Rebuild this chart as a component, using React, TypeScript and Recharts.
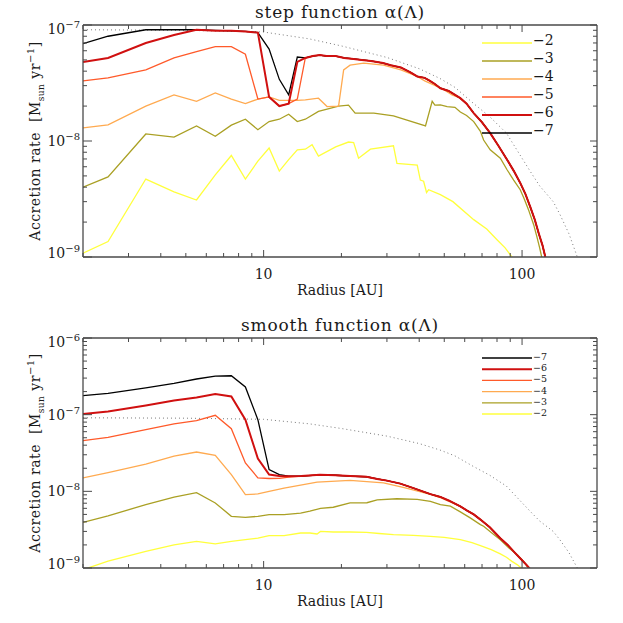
import { LineChart, Line, XAxis, YAxis, Legend } from 'recharts';

const SERIF = '"DejaVu Serif", "Liberation Serif", serif';
const FRAME = '#4a4a4a';
const INK = '#1a1a1a';

// axis ticks
const radiusTicks = [2, 3, 4, 5, 6, 7, 8, 9, 10, 20, 30, 40, 50, 60, 70, 80, 90, 100];
const stepRateTicks = [
  1e-9, 2e-9, 3e-9, 4e-9, 5e-9, 6e-9, 7e-9, 8e-9, 9e-9,
  1e-8, 2e-8, 3e-8, 4e-8, 5e-8, 6e-8, 7e-8, 8e-8, 9e-8, 1e-7,
];
const smoothRateTicks = [
  1e-9, 2e-9, 3e-9, 4e-9, 5e-9, 6e-9, 7e-9, 8e-9, 9e-9,
  1e-8, 2e-8, 3e-8, 4e-8, 5e-8, 6e-8, 7e-8, 8e-8, 9e-8,
  1e-7, 2e-7, 3e-7, 4e-7, 5e-7, 6e-7, 7e-7, 8e-7, 9e-7, 1e-6,
];

// dotted reference curve (same in both panels)
const dottedR = [2, 5, 10, 15, 20, 30, 40, 48, 55, 65, 75, 87, 100, 108, 117, 132, 140, 152, 165];
const dottedRate = [9.1e-8, 9.0e-8, 8.7e-8, 7.6e-8, 6.6e-8, 5.25e-8, 4.2e-8, 3.47e-8, 2.9e-8, 2.1e-8, 1.62e-8, 1.17e-8, 7.1e-9, 5.4e-9, 4.1e-9, 3.0e-9, 2.34e-9, 1.58e-9, 9.5e-10];

// ---- step function panel ----
const stepInnerR = [2, 2.5, 3.5, 4.5, 5.5, 6.5, 7.5, 8.5, 9.5, 10.5, 11.5, 12.5, 13.5];
const step7Inner = [6.9e-8, 8.0e-8, 9.1e-8, 9.1e-8, 9.1e-8, 9.0e-8, 8.9e-8, 8.8e-8, 8.6e-8, 6.2e-8, 3.4e-8, 2.5e-8, 5.3e-8];
const step6Inner = [4.8e-8, 5.2e-8, 7.0e-8, 8.2e-8, 9.1e-8, 8.9e-8, 8.9e-8, 8.8e-8, 8.6e-8, 2.4e-8, 2.0e-8, 2.1e-8, 4.8e-8];
const step5Inner = [3.3e-8, 3.5e-8, 4.1e-8, 5.2e-8, 5.9e-8, 6.5e-8, 6.5e-8, 5.6e-8, 2.3e-8, 2.4e-8, 2.0e-8, 2.1e-8, 2.3e-8];

// shared outer branch of -5, -6, -7 (and -4 beyond ~55 AU)
const stepTailR = [14.5, 15.5, 16.5, 17.5, 19, 20.5, 22.3, 24, 26, 29, 31, 34, 37, 39.3, 42, 44, 46, 48.3, 52, 57.7, 61, 65, 70, 75.3, 81, 87.5, 93, 98.4, 103, 107.6, 112, 116, 120, 124];
const stepTailRate = [5.2e-8, 5.4e-8, 5.5e-8, 5.4e-8, 5.4e-8, 5.2e-8, 5.1e-8, 5.0e-8, 4.9e-8, 4.7e-8, 4.5e-8, 4.3e-8, 3.9e-8, 3.6e-8, 3.5e-8, 3.3e-8, 3.1e-8, 2.85e-8, 2.7e-8, 2.34e-8, 2.1e-8, 1.74e-8, 1.45e-8, 1.17e-8, 9.1e-9, 6.9e-9, 5.5e-9, 4.35e-9, 3.5e-9, 2.7e-9, 2.1e-9, 1.6e-9, 1.26e-9, 9.3e-10];

const step4R = [2, 2.5, 3.5, 4.5, 5.5, 6.5, 7.5, 8.5, 9.5, 10.5, 11.5, 12.5, 13.5, 14.5, 16.3, 17.6, 19.5, 20.4, 21.6, 24.4, 29.1, 34, 39.3, 42, 45.5, 50, 53.6];
const step4Rate = [1.3e-8, 1.38e-8, 2.0e-8, 2.5e-8, 2.2e-8, 2.6e-8, 2.3e-8, 2.1e-8, 2.3e-8, 2.4e-8, 2.24e-8, 2.24e-8, 2.24e-8, 2.26e-8, 2.34e-8, 1.98e-8, 2.0e-8, 4.1e-8, 4.5e-8, 4.7e-8, 4.5e-8, 4.1e-8, 3.6e-8, 3.3e-8, 3.05e-8, 2.75e-8, 2.5e-8];

const step3R = [2, 2.5, 3.5, 4.5, 5.5, 6.5, 7.5, 8.5, 9.5, 10.5, 11.5, 12.5, 13.5, 14.5, 16.3, 19.5, 21.3, 22.6, 26.7, 31.8, 42.3, 44.9, 46, 48.3, 51.3, 55, 57.7, 61, 65, 69, 71, 75.3, 82.4, 87.5, 92.8, 98.4, 102, 105.9, 110.9, 114.1, 117, 120];
const step3Rate = [4.0e-9, 4.9e-9, 1.15e-8, 1.08e-8, 1.35e-8, 1.1e-8, 1.37e-8, 1.54e-8, 1.25e-8, 1.47e-8, 1.54e-8, 1.7e-8, 1.47e-8, 1.54e-8, 1.8e-8, 2.0e-8, 2.04e-8, 1.74e-8, 1.74e-8, 1.65e-8, 1.35e-8, 2.2e-8, 2.04e-8, 2.05e-8, 1.98e-8, 1.95e-8, 1.78e-8, 1.66e-8, 1.47e-8, 1.21e-8, 1.02e-8, 8.4e-9, 7.1e-9, 5.65e-9, 4.6e-9, 3.8e-9, 3.16e-9, 2.56e-9, 1.9e-9, 1.5e-9, 1.2e-9, 9.3e-10];

const step2R = [2, 2.5, 3.5, 4.5, 5.5, 6.5, 7.5, 8.5, 9.5, 10.5, 11.5, 12.5, 13.5, 14.5, 15.4, 16.3, 19, 21.3, 22.3, 23.3, 25.9, 31.8, 32.8, 39.3, 40.4, 41.6, 42.7, 43.5, 48.3, 54, 65, 73, 80, 86, 92];
const step2Rate = [1.08e-9, 1.36e-9, 4.7e-9, 3.65e-9, 3.1e-9, 5.1e-9, 7.5e-9, 4.7e-9, 6.7e-9, 8.7e-9, 5.5e-9, 6.9e-9, 8.4e-9, 8.5e-9, 9.3e-9, 7.4e-9, 8.9e-9, 9.8e-9, 9.7e-9, 7.1e-9, 8.5e-9, 9.1e-9, 6.4e-9, 6.2e-9, 4.6e-9, 4.5e-9, 3.6e-9, 3.8e-9, 3.45e-9, 3.0e-9, 2.1e-9, 1.74e-9, 1.41e-9, 1.2e-9, 9.8e-10];

// ---- smooth function panel ----
const smoothInnerR = [2, 2.5, 3.5, 4.5, 5.5, 6.5, 7.5, 8.5, 9.5, 10.5, 11.5, 12.5];
const smooth7Inner = [1.77e-7, 1.9e-7, 2.23e-7, 2.56e-7, 2.92e-7, 3.19e-7, 3.22e-7, 2.3e-7, 8.6e-8, 1.92e-8, 1.65e-8, 1.58e-8];
const smooth6Inner = [1.02e-7, 1.1e-7, 1.32e-7, 1.53e-7, 1.68e-7, 1.86e-7, 1.73e-7, 8.6e-8, 2.67e-8, 1.66e-8, 1.58e-8, 1.57e-8];
const smooth5Inner = [4.58e-8, 5.06e-8, 6.37e-8, 7.57e-8, 8.36e-8, 9.8e-8, 6.56e-8, 2.34e-8, 1.5e-8, 1.47e-8, 1.48e-8, 1.53e-8];

const smoothTailR = [14, 16.5, 19, 21.6, 25, 27.5, 30, 33.8, 38, 44.2, 48.3, 52, 57.7, 61.3, 65, 69, 75, 82.4, 88, 92, 96.1, 100, 104, 108];
const smoothTailRate = [1.58e-8, 1.64e-8, 1.62e-8, 1.58e-8, 1.55e-8, 1.45e-8, 1.38e-8, 1.26e-8, 1.1e-8, 9.2e-9, 8.45e-9, 7.6e-9, 6.37e-9, 5.6e-9, 5.0e-9, 4.28e-9, 3.4e-9, 2.45e-9, 2.0e-9, 1.7e-9, 1.45e-9, 1.26e-9, 1.1e-9, 9.5e-10];

const smooth4R = [2, 2.5, 3.5, 4.5, 5.5, 6.5, 7.5, 8.5, 9.5, 10.5, 12, 16.1, 21.6, 29.1, 35, 44.2, 48.3];
const smooth4Rate = [1.5e-8, 1.76e-8, 2.26e-8, 2.88e-8, 3.26e-8, 2.94e-8, 1.65e-8, 9.06e-9, 9.25e-9, 1.0e-8, 1.1e-8, 1.32e-8, 1.39e-8, 1.29e-8, 1.12e-8, 9.1e-9, 8.3e-9];

const smooth3R = [2, 2.5, 3.5, 4.5, 5.5, 6.5, 7.5, 8.5, 9.5, 10.5, 12, 13.9, 15.1, 16.6, 18.6, 21.6, 25.1, 27.5, 32.8, 39.3, 44.2, 48.3, 52.8, 57.7, 63, 69, 71, 76, 82.4, 89, 96.1, 101, 107];
const smooth3Rate = [3.94e-9, 4.8e-9, 6.7e-9, 8.4e-9, 9.6e-9, 7.06e-9, 4.72e-9, 4.58e-9, 4.72e-9, 4.97e-9, 4.97e-9, 5.2e-9, 5.5e-9, 6.0e-9, 6.2e-9, 7.06e-9, 7.1e-9, 7.76e-9, 8.0e-9, 7.85e-9, 7.4e-9, 6.7e-9, 6.4e-9, 5.4e-9, 4.5e-9, 3.68e-9, 3.5e-9, 2.9e-9, 2.34e-9, 1.82e-9, 1.48e-9, 1.23e-9, 9.5e-10];

const smooth2R = [2, 2.5, 3.5, 4.5, 5.5, 6.5, 7.5, 8.5, 9.5, 10.5, 12, 13.9, 15.1, 16.1, 16.6, 18.6, 21.6, 25, 28, 31.8, 38, 44.2, 50, 57.7, 64, 69, 76, 82.4, 87, 91.4, 96, 101];
const smooth2Rate = [9.5e-10, 1.23e-9, 1.65e-9, 2.0e-9, 2.23e-9, 2.07e-9, 2.23e-9, 2.34e-9, 2.45e-9, 2.64e-9, 2.65e-9, 2.86e-9, 2.86e-9, 2.78e-9, 3.0e-9, 2.95e-9, 2.95e-9, 2.92e-9, 2.82e-9, 2.72e-9, 2.66e-9, 2.59e-9, 2.51e-9, 2.34e-9, 2.14e-9, 1.96e-9, 1.74e-9, 1.53e-9, 1.38e-9, 1.22e-9, 1.1e-9, 9.5e-10];

const COLORS: Record<string, string> = {
  '-2': '#ffff3c',
  '-3': '#aaa024',
  '-4': '#ffaa50',
  '-5': '#ff5a2a',
  '-6': '#d01010',
  '-7': '#000000',
};

type Series = { id: string; width: number; data: { r: number; rate: number }[] };

const zip = (r: number[], rate: number[]) => r.map((x, i) => ({ r: x, rate: rate[i] }));
const after = (r: number[], rate: number[], from: number) =>
  zip(r, rate).filter((p) => p.r > from);

const mk = (id: string, data: { r: number; rate: number }[]): Series => ({
  id,
  width: id === '-6' ? 2 : 1.3,
  data,
});

// drawing order: red last so it sits on top of the shared branch
const stepSeries: Series[] = [
  mk('-2', zip(step2R, step2Rate)),
  mk('-3', zip(step3R, step3Rate)),
  mk('-4', [...zip(step4R, step4Rate), ...after(stepTailR, stepTailRate, 55)]),
  mk('-5', [...zip(stepInnerR, step5Inner), ...zip(stepTailR, stepTailRate)]),
  mk('-7', [...zip(stepInnerR, step7Inner), ...zip(stepTailR, stepTailRate)]),
  mk('-6', [...zip(stepInnerR, step6Inner), ...zip(stepTailR, stepTailRate)]),
];

const smoothSeries: Series[] = [
  mk('-2', zip(smooth2R, smooth2Rate)),
  mk('-3', zip(smooth3R, smooth3Rate)),
  mk('-4', [...zip(smooth4R, smooth4Rate), ...after(smoothTailR, smoothTailRate, 55)]),
  mk('-5', [...zip(smoothInnerR, smooth5Inner), ...zip(smoothTailR, smoothTailRate)]),
  mk('-7', [...zip(smoothInnerR, smooth7Inner), ...zip(smoothTailR, smoothTailRate)]),
  mk('-6', [...zip(smoothInnerR, smooth6Inner), ...zip(smoothTailR, smoothTailRate)]),
];

const dotted = zip(dottedR, dottedRate);

const isDecade = (v: number) => Math.abs(Math.log10(v) - Math.round(Math.log10(v))) < 1e-6;
const minus = (s: string) => s.replace('-', '\u2212');

const makeXTick = (side: 'top' | 'bottom') => (props: any) => {
  const { x, y, payload } = props;
  const major = isDecade(payload.value);
  const len = major ? 7 : 4;
  const dir = side === 'bottom' ? -1 : 1;
  return (
    <g>
      <line x1={x} x2={x} y1={y} y2={y + dir * len} stroke={FRAME} strokeWidth={1} />
      {side === 'bottom' && major && (
        <text x={x} y={y + 21.5} textAnchor="middle" fontFamily={SERIF} fontSize={14} fill={INK}>
          {payload.value}
        </text>
      )}
    </g>
  );
};

const makeYTick = (side: 'left' | 'right', lo: number, hi: number) => (props: any) => {
  const { x, y, payload } = props;
  const v = payload.value;
  const major = isDecade(v);
  const len = major ? (side === 'left' ? 9 : 7) : 4;
  const dir = side === 'left' ? 1 : -1;
  const exp = Math.round(Math.log10(v));
  const base = v >= hi * 0.999 ? y + 9 : v <= lo * 1.001 ? y + 1 : y + 5;
  return (
    <g>
      <line x1={x} x2={x + dir * len} y1={y} y2={y} stroke={FRAME} strokeWidth={1} />
      {side === 'left' && major && (
        <text x={x - 3} y={base} textAnchor="end" fontFamily={SERIF} fontSize={14} fill={INK}>
          10
          <tspan dy={-6} fontSize={10}>
            {'\u2212' + Math.abs(exp)}
          </tspan>
        </text>
      )}
    </g>
  );
};

const titleLabel = (text: string) => (props: any) => {
  const vb = props.viewBox;
  return (
    <text
      x={vb.x + vb.width / 2}
      y={vb.y + 18}
      textAnchor="middle"
      fontFamily={SERIF}
      fontSize={17}
      letterSpacing={0.8}
      fill={INK}
    >
      {text}
    </text>
  );
};

const radiusLabel = (props: any) => {
  const vb = props.viewBox;
  return (
    <text x={vb.x + vb.width / 2} y={vb.y + 38} textAnchor="middle" fontFamily={SERIF} fontSize={14} fill={INK}>
      Radius [AU]
    </text>
  );
};

const rateLabel = (props: any) => {
  const vb = props.viewBox;
  const x = vb.x + 40;
  const y = vb.y + vb.height / 2;
  return (
    <text
      x={x}
      y={y}
      transform={`rotate(-90, ${x}, ${y})`}
      textAnchor="middle"
      fontFamily={SERIF}
      fontSize={14}
      letterSpacing={0.5}
      fill={INK}
    >
      {'Accretion rate\u00a0\u00a0[M'}
      <tspan dy={4} fontSize={9}>sun</tspan>
      <tspan dy={-4}>{'\u00a0yr'}</tspan>
      <tspan dy={-6} fontSize={10}>{'\u22121'}</tspan>
      <tspan dy={6}>]</tspan>
    </text>
  );
};

const legendBox = (ids: string[], gap: number, size: number) => () => (
  <svg width={110} height={gap * ids.length + 16} style={{ display: 'block' }}>
    {ids.map((id, i) => {
      const y = 12 + i * gap;
      return (
        <g key={id}>
          <line x1={2} x2={52} y1={y} y2={y} stroke={COLORS[id]} strokeWidth={id === '-6' ? 2 : 1.3} />
          <text x={53} y={y + 2} fontFamily={SERIF} fontSize={size} fill={INK}>
            {minus(id)}
          </text>
        </g>
      );
    })}
  </svg>
);

type PanelProps = {
  top: number;
  height: number;
  bottomHeight: number;
  title: string;
  yDomain: [number, number];
  yTicks: number[];
  series: Series[];
  legendIds: string[];
  legendTop: number;
  legendGap: number;
  legendSize: number;
};

function Panel({ top, height, bottomHeight, title, yDomain, yTicks, series, legendIds, legendTop, legendGap, legendSize }: PanelProps) {
  const frame = { stroke: FRAME, strokeWidth: 1.3 };
  return (
    <div style={{ position: 'absolute', left: 0, top }}>
      <LineChart width={623} height={height} margin={{ top: 0, right: 0, bottom: 0, left: 0 }}>
        <XAxis
          xAxisId="b"
          dataKey="r"
          type="number"
          scale="log"
          domain={[2, 195]}
          allowDataOverflow
          ticks={radiusTicks}
          interval={0}
          height={bottomHeight}
          tickLine={false}
          tickSize={0}
          tickMargin={0}
          axisLine={frame}
          tick={makeXTick('bottom')}
          label={{ content: radiusLabel }}
        />
        <XAxis
          xAxisId="t"
          orientation="top"
          dataKey="r"
          type="number"
          scale="log"
          domain={[2, 195]}
          allowDataOverflow
          ticks={radiusTicks}
          interval={0}
          height={25}
          tickLine={false}
          tickSize={0}
          tickMargin={0}
          axisLine={frame}
          tick={makeXTick('top')}
          label={{ content: titleLabel(title) }}
        />
        <YAxis
          yAxisId="l"
          type="number"
          scale="log"
          domain={yDomain}
          allowDataOverflow
          ticks={yTicks}
          interval={0}
          width={83}
          tickLine={false}
          tickSize={0}
          tickMargin={0}
          axisLine={frame}
          tick={makeYTick('left', yDomain[0], yDomain[1])}
          label={{ content: rateLabel }}
        />
        <YAxis
          yAxisId="r"
          orientation="right"
          type="number"
          scale="log"
          domain={yDomain}
          allowDataOverflow
          ticks={yTicks}
          interval={0}
          width={26}
          tickLine={false}
          tickSize={0}
          tickMargin={0}
          axisLine={frame}
          tick={makeYTick('right', yDomain[0], yDomain[1])}
        />
        <Line
          xAxisId="b"
          yAxisId="l"
          data={dotted}
          dataKey="rate"
          type="linear"
          stroke="#7a7a7a"
          strokeWidth={1}
          strokeDasharray="1 3"
          dot={false}
          isAnimationActive={false}
        />
        {series.map((s) => (
          <Line
            key={s.id}
            xAxisId="b"
            yAxisId="l"
            data={s.data}
            dataKey="rate"
            name={minus(s.id)}
            type="linear"
            stroke={COLORS[s.id]}
            strokeWidth={s.width}
            dot={false}
            isAnimationActive={false}
          />
        ))}
        <Legend
          layout="vertical"
          align="center"
          verticalAlign="middle"
          wrapperStyle={{ left: 480, top: legendTop, width: 110 }}
          content={legendBox(legendIds, legendGap, legendSize)}
        />
      </LineChart>
    </div>
  );
}

export default function App() {
  return (
    <div style={{ position: 'absolute', left: 0, top: 0, width: 623, height: 623, background: '#fff' }}>
      <Panel
        top={0}
        height={300}
        bottomHeight={43}
        title={'step function \u03b1(\u039b)'}
        yDomain={[1e-9, 1e-7]}
        yTicks={stepRateTicks}
        series={stepSeries}
        legendIds={['-2', '-3', '-4', '-5', '-6', '-7']}
        legendTop={31}
        legendGap={18}
        legendSize={14}
      />
      <Panel
        top={313}
        height={310}
        bottomHeight={55}
        title={'smooth function \u03b1(\u039b)'}
        yDomain={[1e-9, 1e-6]}
        yTicks={smoothRateTicks}
        series={smoothSeries}
        legendIds={['-7', '-6', '-5', '-4', '-3', '-2']}
        legendTop={33}
        legendGap={11.2}
        legendSize={9.5}
      />
    </div>
  );
}
